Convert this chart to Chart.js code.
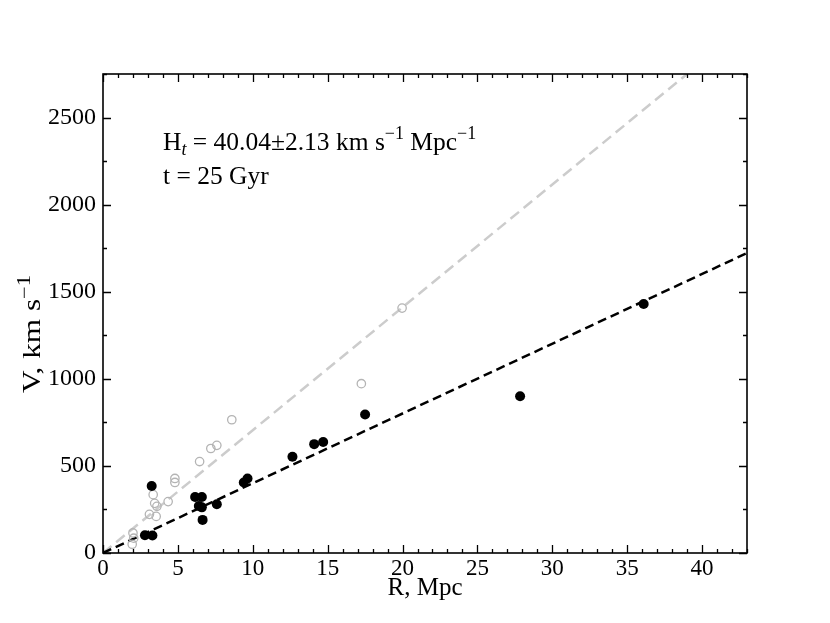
<!DOCTYPE html>
<html>
<head>
<meta charset="utf-8">
<script src="https://cdn.jsdelivr.net/npm/chart.js@4.4.1/dist/chart.umd.min.js"></script>
<style>
  html, body { margin: 0; padding: 0; background: #fff; }
  #wrap { width: 830px; height: 623px; }
</style>
</head>
<body>
<div id="wrap"><canvas id="chart" width="830" height="623"></canvas></div>
<script>
const FONT = '"Liberation Serif", "DejaVu Serif", "Times New Roman", serif';

// galaxies used in the fit (filled black)
const fitR = [2.8, 3.3, 3.25, 6.15, 6.6, 6.4, 6.6, 6.65, 7.6, 9.4, 9.65, 12.65, 14.1, 14.7, 17.5, 27.85, 36.1];
const fitV = [102, 100, 385, 322, 322, 270, 262, 190, 280, 405, 428, 553, 625, 637, 795, 900, 1430];

// remaining galaxies (open grey)
const otherR = [1.95, 2.05, 2.0, 3.1, 3.35, 3.45, 3.6, 3.55, 4.35, 4.8, 4.8, 6.45, 7.2, 7.6, 8.6, 17.25, 19.97];
const otherV = [50, 85, 115, 222, 335, 285, 268, 210, 295, 405, 428, 525, 600, 618, 765, 972, 1406];

// fitted line, H_t = 40.04
const fitLineR = [0, 43];
const fitLineV = [0, 1722];

// steeper reference line (grey)
const refLineR = [0, 39.0];
const refLineV = [0, 2750];

const xTicks = [0, 5, 10, 15, 20, 25, 30, 35, 40];
const yTicks = [0, 500, 1000, 1500, 2000, 2500];

const toPoints = (xs, ys) => xs.map((x, i) => ({ x: x, y: ys[i] }));

function partFont(kind, size) {
  if (kind === 'n') return size + 'px ' + FONT;
  if (kind === 'subi') return 'italic ' + Math.round(size * 0.7) + 'px ' + FONT;
  return Math.round(size * 0.7) + 'px ' + FONT;
}

function richWidth(ctx, parts, size) {
  let w = 0;
  parts.forEach(([t, k]) => { ctx.font = partFont(k, size); w += ctx.measureText(t).width; });
  return w;
}

function drawRich(ctx, x, y, parts, size) {
  ctx.textAlign = 'left';
  ctx.textBaseline = 'alphabetic';
  parts.forEach(([t, k]) => {
    ctx.font = partFont(k, size);
    let dy = 0;
    if (k === 'sup') dy = -size * 0.42;
    if (k === 'subi') dy = size * 0.2;
    ctx.fillText(t, x, y + dy);
    x += ctx.measureText(t).width;
  });
}

// frame, inward ticks, axis titles and the text box
const framePlugin = {
  id: 'frame',
  afterDraw(chart) {
    const ctx = chart.ctx;
    const a = chart.chartArea;
    const xs = chart.scales.x;
    const ys = chart.scales.y;
    ctx.save();
    ctx.strokeStyle = '#000';
    ctx.lineWidth = 1.6;
    ctx.strokeRect(a.left, a.top, a.right - a.left, a.bottom - a.top);

    ctx.lineWidth = 1.3;
    ctx.beginPath();
    for (let v = 0; v <= 43; v += 1) {
      const px = Math.round(xs.getPixelForValue(v)) + 0.5;
      const len = v % 5 === 0 ? 8 : 4;
      ctx.moveTo(px, a.bottom); ctx.lineTo(px, a.bottom - len);
      ctx.moveTo(px, a.top); ctx.lineTo(px, a.top + len);
    }
    for (let v = 0; v <= 2750; v += 250) {
      const py = Math.round(ys.getPixelForValue(v)) + 0.5;
      const len = v % 500 === 0 ? 8 : 4;
      ctx.moveTo(a.left, py); ctx.lineTo(a.left + len, py);
      ctx.moveTo(a.right, py); ctx.lineTo(a.right - len, py);
    }
    ctx.stroke();

    ctx.fillStyle = '#000';
    ctx.textBaseline = 'alphabetic';
    ctx.font = '25px ' + FONT;
    ctx.textAlign = 'center';
    ctx.fillText('R, Mpc', (a.left + a.right) / 2, 595);

    // y title, rotated
    ctx.save();
    ctx.translate(40, 334);
    ctx.rotate(-Math.PI / 2);
    const yParts = [['V, km s', 'n'], ['\u22121', 'sup']];
    const w = richWidth(ctx, yParts, 25);
    const k = 118 / w;
    ctx.scale(k, 1);
    drawRich(ctx, -w / 2, 0, yParts, 25);
    ctx.restore();

    drawRich(ctx, 163, 150, [
      ['H', 'n'], ['t', 'subi'], [' = 40.04\u00b12.13 km s', 'n'], ['\u22121', 'sup'],
      [' Mpc', 'n'], ['\u22121', 'sup']
    ], 25.5);
    drawRich(ctx, 163, 184, [['t = 25 Gyr', 'n']], 25.5);
    ctx.restore();
  }
};

const ctx = document.getElementById('chart').getContext('2d');
new Chart(ctx, {
  type: 'scatter',
  data: {
    datasets: [
      {
        label: 'fit',
        data: toPoints(fitR, fitV),
        pointRadius: 5,
        pointBackgroundColor: '#000',
        pointBorderWidth: 0,
      },
      {
        label: 'other',
        data: toPoints(otherR, otherV),
        pointRadius: 4.2,
        pointBackgroundColor: 'rgba(255,255,255,0)',
        pointBorderColor: '#b4b4b4',
        pointBorderWidth: 1.3,
      },
      {
        label: 'fit line',
        data: toPoints(fitLineR, fitLineV),
        showLine: true,
        pointRadius: 0,
        borderColor: '#000',
        borderWidth: 2.5,
        borderDash: [9, 5],
      },
      {
        label: 'ref line',
        data: toPoints(refLineR, refLineV),
        showLine: true,
        pointRadius: 0,
        borderColor: '#cccccc',
        borderWidth: 2.5,
        borderDash: [11, 6],
      },
    ],
  },
  options: {
    responsive: false,
    animation: false,
    layout: { padding: { left: 0, top: 74, right: 83, bottom: 0 } },
    plugins: {
      legend: { display: false },
      tooltip: { enabled: false },
    },
    scales: {
      x: {
        type: 'linear',
        min: 0,
        max: 43,
        grid: { display: false, drawTicks: false },
        border: { display: false },
        ticks: {
          color: '#000',
          padding: 2,
          maxRotation: 0,
          font: { family: FONT, size: 23 },
          callback: (v) => String(v),
        },
        afterBuildTicks: (scale) => { scale.ticks = xTicks.map((v) => ({ value: v })); },
        afterFit: (scale) => { scale.height = 70; },
      },
      y: {
        type: 'linear',
        min: 0,
        max: 2750,
        grid: { display: false, drawTicks: false },
        border: { display: false },
        ticks: {
          color: '#000',
          padding: 7,
          font: { family: FONT, size: 24 },
          callback: (v) => String(v),
        },
        afterBuildTicks: (scale) => { scale.ticks = yTicks.map((v) => ({ value: v })); },
        afterFit: (scale) => { scale.width = 103; },
      },
    },
  },
  plugins: [framePlugin],
});
</script>
</body>
</html>
